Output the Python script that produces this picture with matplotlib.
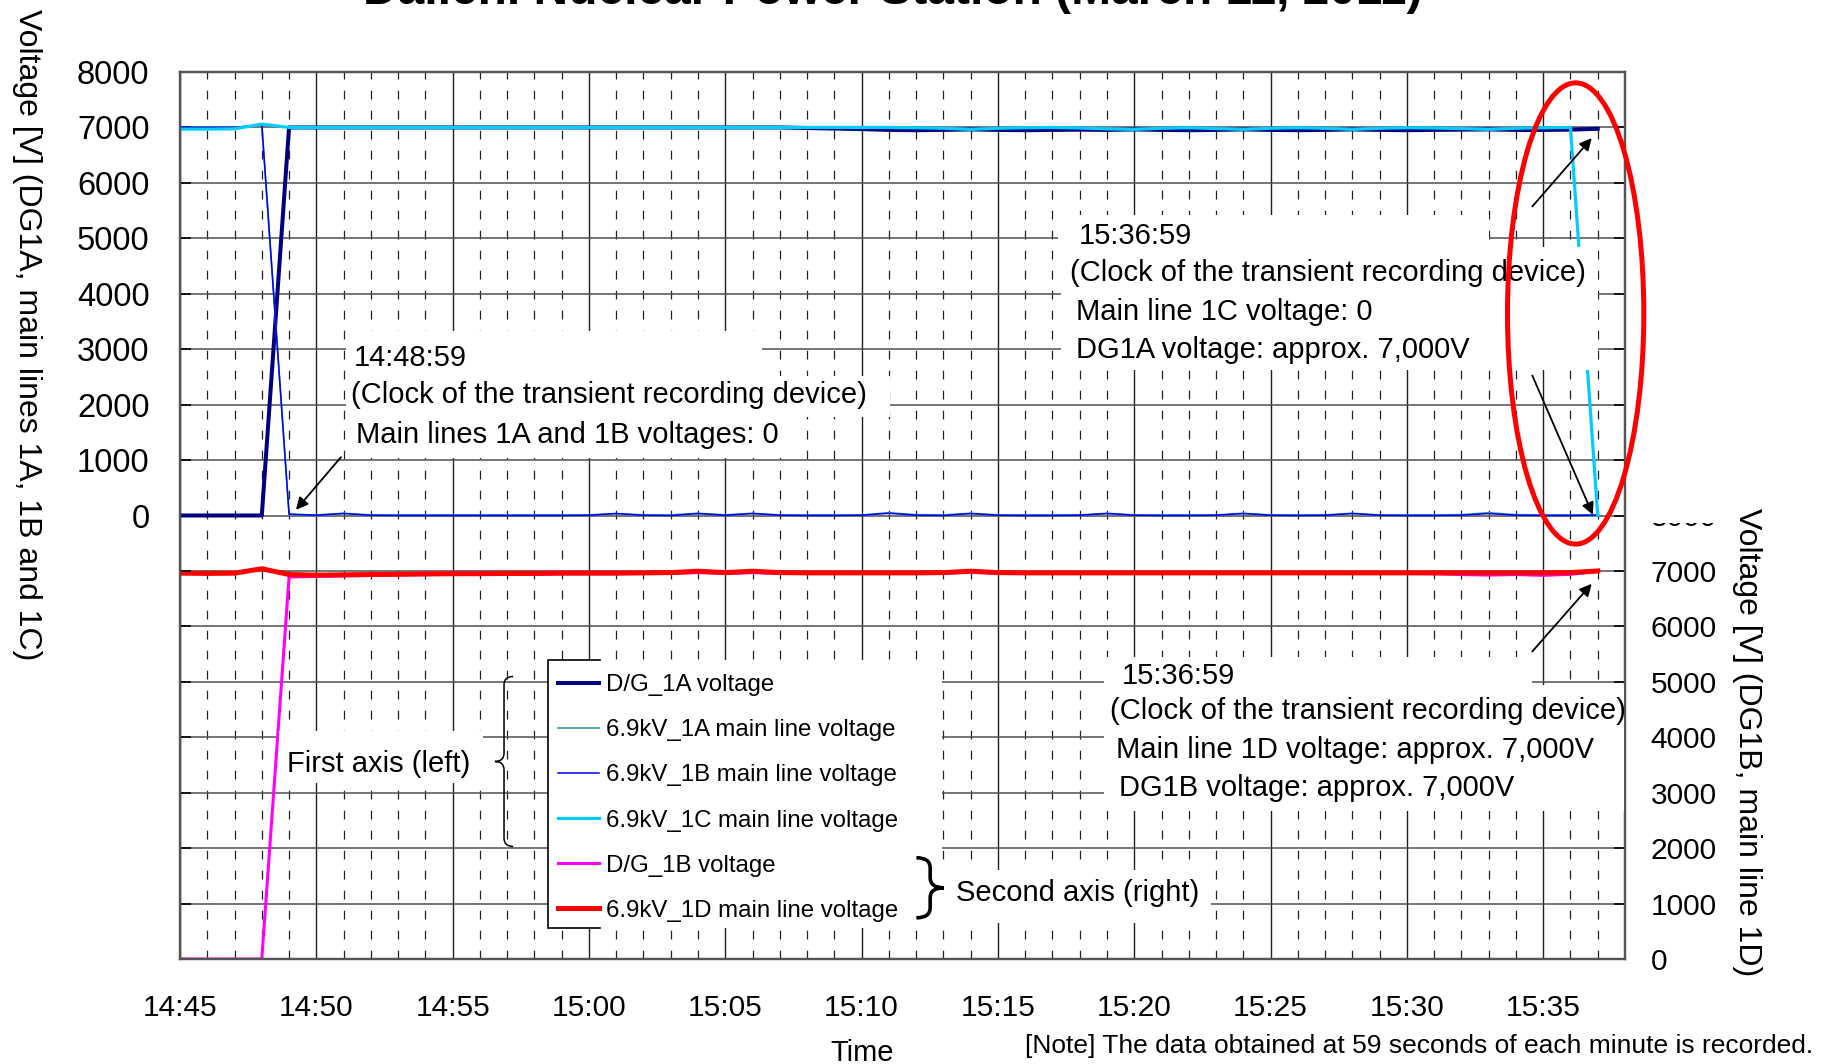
import numpy as np
import matplotlib
matplotlib.use('Agg')
import matplotlib.pyplot as plt
from matplotlib.lines import Line2D
from matplotlib.patches import Rectangle, Ellipse, PathPatch
from matplotlib.path import Path

plt.rcParams['font.family'] = ['Liberation Sans', 'DejaVu Sans']

# -------------------- data (one value per minute, 14:45 ... 15:37) --------------------
TICK_LABELS = ['14:45', '14:50', '14:55', '15:00', '15:05', '15:10',
               '15:15', '15:20', '15:25', '15:30', '15:35']
LEFT_LABELS = ['0', '1000', '2000', '3000', '4000', '5000', '6000', '7000', '8000']
RIGHT_LABELS = ['0', '1000', '2000', '3000', '4000', '5000', '6000', '7000', '8000']

# first axis (left)
DG_1A = [0, 0, 0, 0, 7000, 7000, 7000, 7000, 7000, 7000,
         7000, 7000, 7000, 7000, 7000, 7000, 7000, 7000, 7000, 7000,
         7000, 7000, 7000, 6990, 6980, 6970, 6955, 6950, 6955, 6965,
         6955, 6950, 6955, 6960, 6955, 6965, 6955, 6950, 6955, 6965,
         6955, 6950, 6955, 6965, 6955, 6950, 6955, 6960, 6965, 6955,
         6955, 6960, 6975]
LINE_1A = [7000, 7000, 7000, 7050, 20, 10, 40, 10, 10, 10,
           10, 10, 10, 10, 10, 10, 35, 10, 10, 40,
           10, 40, 10, 10, 10, 10, 50, 15, 10, 40,
           10, 10, 10, 10, 40, 10, 10, 10, 10, 40,
           10, 10, 10, 40, 10, 10, 10, 15, 50, 15,
           10, 10, 5]
LINE_1B = [7000, 7000, 7000, 7050, 25, 5, 35, 5, 0, 0,
           0, 0, 0, 0, 0, 5, 35, 5, 0, 35,
           5, 35, 5, 0, 0, 5, 40, 5, 0, 35,
           5, 0, 0, 5, 35, 5, 0, 0, 5, 35,
           5, 0, 5, 35, 5, 0, 0, 5, 35, 5,
           0, 0, 10]
LINE_1C = [6970, 6970, 6975, 7060, 7000, 7000, 7000, 7000, 7000, 7000,
           7000, 7000, 7000, 7000, 7000, 7000, 7000, 7000, 7000, 7000,
           7000, 7000, 7000, 7000, 7000, 7000, 7000, 6995, 6985, 6965,
           6985, 6995, 7000, 6990, 6975, 6965, 6985, 6995, 6980, 6965,
           6985, 6995, 6985, 6965, 6985, 6995, 6990, 6980, 6965, 6985,
           6995, 7000, 0]
# second axis (right)
DG_1B = [0, 0, 0, 0, 6890, 6900, 6910, 6920, 6930, 6935,
         6940, 6940, 6945, 6945, 6950, 6950, 6950, 6955, 6955, 6970,
         6955, 6970, 6955, 6955, 6955, 6955, 6955, 6955, 6960, 6975,
         6960, 6960, 6960, 6960, 6960, 6960, 6960, 6960, 6960, 6960,
         6960, 6960, 6960, 6960, 6960, 6955, 6950, 6935, 6925, 6935,
         6920, 6940, 6990]
LINE_1D = [6960, 6955, 6960, 7040, 6935, 6925, 6930, 6935, 6940, 6945,
           6950, 6950, 6955, 6955, 6960, 6960, 6960, 6965, 6970, 6995,
           6970, 6995, 6970, 6965, 6965, 6965, 6965, 6965, 6970, 6995,
           6970, 6965, 6965, 6965, 6965, 6965, 6965, 6965, 6965, 6965,
           6965, 6965, 6965, 6965, 6965, 6965, 6965, 6965, 6965, 6965,
           6965, 6970, 7000]

SERIES_LEFT = [('D/G_1A voltage', DG_1A, '#000080', 2.9),
               ('6.9kV_1A main line voltage', LINE_1A, '#339999', 1.2),
               ('6.9kV_1B main line voltage', LINE_1B, '#0000ff', 1.1),
               ('6.9kV_1C main line voltage', LINE_1C, '#00ccff', 2.3)]
SERIES_RIGHT = [('D/G_1B voltage', DG_1B, '#ff00ff', 2.2),
                ('6.9kV_1D main line voltage', LINE_1D, '#ff0000', 3.6)]

W, H = 1832, 1064


def brace(ax, x_back, x_tip, y_top, y_bot, r, lw):
    """curly brace, tip pointing to x_tip"""
    xm = (x_back + x_tip) / 2
    ym = (y_top + y_bot) / 2
    verts = [(x_back, y_top), (xm, y_top), (xm, y_top - r),
             (xm, ym + r), (xm, ym), (x_tip, ym),
             (xm, ym), (xm, ym - r),
             (xm, y_bot + r), (xm, y_bot), (x_back, y_bot)]
    codes = [Path.MOVETO, Path.CURVE3, Path.CURVE3, Path.LINETO,
             Path.CURVE3, Path.CURVE3, Path.CURVE3, Path.CURVE3,
             Path.LINETO, Path.CURVE3, Path.CURVE3]
    ax.add_patch(PathPatch(Path(verts, codes), fill=False, lw=lw,
                           edgecolor='black', zorder=7, clip_on=False))


fig = plt.figure(figsize=(W / 100, H / 100), dpi=100)
axr = fig.add_axes([180 / W, 1 - 959 / H, 1445 / W, 887 / H])
axl = axr.twinx()
axl.yaxis.tick_left()
axl.yaxis.set_label_position('left')
axr.yaxis.tick_right()
axr.yaxis.set_label_position('right')

minutes = np.arange(len(DG_1A))
for i, (name, vals, col, lw) in enumerate(SERIES_RIGHT):
    axr.plot(minutes, vals, color=col, lw=lw, zorder=2 + i * 0.1)
for i, (name, vals, col, lw) in enumerate(SERIES_LEFT):
    axl.plot(minutes, vals, color=col, lw=lw, zorder=2 + i * 0.1)

axr.set_xlim(0, 53)
axr.set_ylim(0, 16000)
axl.set_ylim(-8000, 8000)

axr.set_xticks(np.arange(0, 51, 5))
axr.set_xticklabels(TICK_LABELS)
axr.set_xticks(np.arange(1, 53), minor=True)
axr.tick_params(axis='x', which='both', length=0, pad=25, labelsize=21.5)

axr.set_yticks(np.arange(0, 16001, 1000))
axr.set_yticklabels(RIGHT_LABELS + [''] * 8)
axr.tick_params(axis='y', direction='in', length=8, width=1.2, labelsize=21.5, pad=18.5)
axl.set_yticks(np.arange(-8000, 8001, 1000))
axl.set_yticklabels([''] * 8 + LEFT_LABELS)
axl.tick_params(axis='y', direction='in', length=8, width=1.2, labelsize=23.5, pad=22)

axr.set_axisbelow(True)
axr.grid(True, which='major', axis='y', color='#505050', lw=1.1)
axr.grid(True, which='major', axis='x', color='#202020', lw=1.0)
axr.grid(True, which='minor', axis='x', color='#202020', lw=0.9, ls=(0, (7, 9)))
for ax in (axr, axl):
    for s in ax.spines.values():
        s.set_color('#555555')
        s.set_linewidth(1.6)

# white backgrounds behind the notes (x0, x1, v0, v1 on the left axis)
for x0, x1, v0, v1 in [(6.08, 21.34, 2520, 3320), (6.08, 26.04, 1770, 2520),
                       (6.08, 22.9, 1040, 1770),
                       (32.2, 48.0, 4850, 5420), (32.3, 52.01, 2628, 4850),
                       (33.9, 49.58, -3050, -2560), (33.9, 52.95, -5338, -3050),
                       (3.62, 11.12, -4827, -3896), (26.88, 37.82, -7347, -6391),
                       (13.5, 27.94, -7435, -2603)]:
    axl.add_patch(Rectangle((x0, v0), x1 - x0, v1 - v0, facecolor='white',
                            edgecolor='none', zorder=4))
# legend frame (left edge with short top and bottom)
axl.plot([15.4, 13.5, 13.5, 15.4], [-2603, -2603, -7435, -7435], color='black',
         lw=1.2, zorder=5, solid_joinstyle='miter')

notes = [(6.39, 2688, '14:48:59'),
         (6.26, 2033, '(Clock of the transient recording device)'),
         (6.46, 1311, 'Main lines 1A and 1B voltages: 0'),
         (32.96, 4901, '15:36:59'),
         (32.65, 4224, '(Clock of the transient recording device)'),
         (32.86, 3530, 'Main line 1C voltage: 0'),
         (32.86, 2835, 'DG1A voltage: approx. 7,000V'),
         (34.54, -3045, '15:36:59'),
         (34.11, -3676, '(Clock of the transient recording device)'),
         (34.33, -4380, 'Main line 1D voltage: approx. 7,000V'),
         (34.44, -5065, 'DG1B voltage: approx. 7,000V'),
         (3.94, -4618, 'First axis (left)'),
         (28.46, -6950, 'Second axis (right)')]
for x, v, s in notes:
    axl.text(x, v, s, fontsize=21, ha='left', va='baseline', zorder=6)

for tail, head in [((5.905, 1053), (4.255, 103)), ((49.6, 5574), (51.78, 6807)),
                   ((49.6, 2525), (51.82, 13)), ((49.6, -2453), (51.78, -1232))]:
    axl.annotate('', xy=head, xytext=tail, zorder=7,
                 arrowprops=dict(arrowstyle='-|>', color='black', lw=1.3,
                                 mutation_scale=18, shrinkA=0, shrinkB=0))

brace(axl, 12.22, 11.55, -2904, -5970, 150, 1.1)
brace(axl, 27.01, 28.02, -6174, -7257, 180, 2.6)

axl.add_patch(Ellipse((51.19, 3644), 5.0, 8320, fill=False, edgecolor='#ff0000',
                      lw=3.6, zorder=8, clip_on=False))

handles = [Line2D([], [], color=c, lw=lw) for _, _, c, lw in SERIES_LEFT + SERIES_RIGHT]
labels = [n for n, _, _, _ in SERIES_LEFT + SERIES_RIGHT]
leg = axl.legend(handles, labels, loc='center left', bbox_to_anchor=(0.2616, 0.1815),
                 frameon=False, fontsize=17.3, handlelength=1.7, handletextpad=0.3,
                 labelspacing=0.96, borderpad=0, borderaxespad=0)
leg.set_zorder(6)

fig.text(893 / W, 1 - 4 / H, 'Daiichi Nuclear Power Station (March 11, 2011)',
         ha='center', va='baseline', fontsize=34.5, fontweight='bold')
fig.text(26.7 / W, 1 - 335 / H, 'Voltage [V] (DG1A, main lines 1A, 1B and 1C)',
         rotation=270, ha='center', va='center', fontsize=23)
fig.text(1746.7 / W, 1 - 741.7 / H, 'Voltage [V] (DG1B, main line 1D)',
         rotation=270, ha='center', va='center', fontsize=23)
fig.text(862 / W, 1 - 1061 / H, 'Time', ha='center', va='baseline', fontsize=21)
fig.text(1025 / W, 1 - 1053 / H,
         '[Note] The data obtained at 59 seconds of each minute is recorded.',
         ha='left', va='baseline', fontsize=19)
# upper half of the right "8000" label is hidden in the original
fig.add_artist(Rectangle((1640 / W, 1 - 523 / H), 90 / W, 25 / H,
                         transform=fig.transFigure, facecolor='white',
                         edgecolor='none', zorder=10))

fig.savefig('out.png', dpi=100)
